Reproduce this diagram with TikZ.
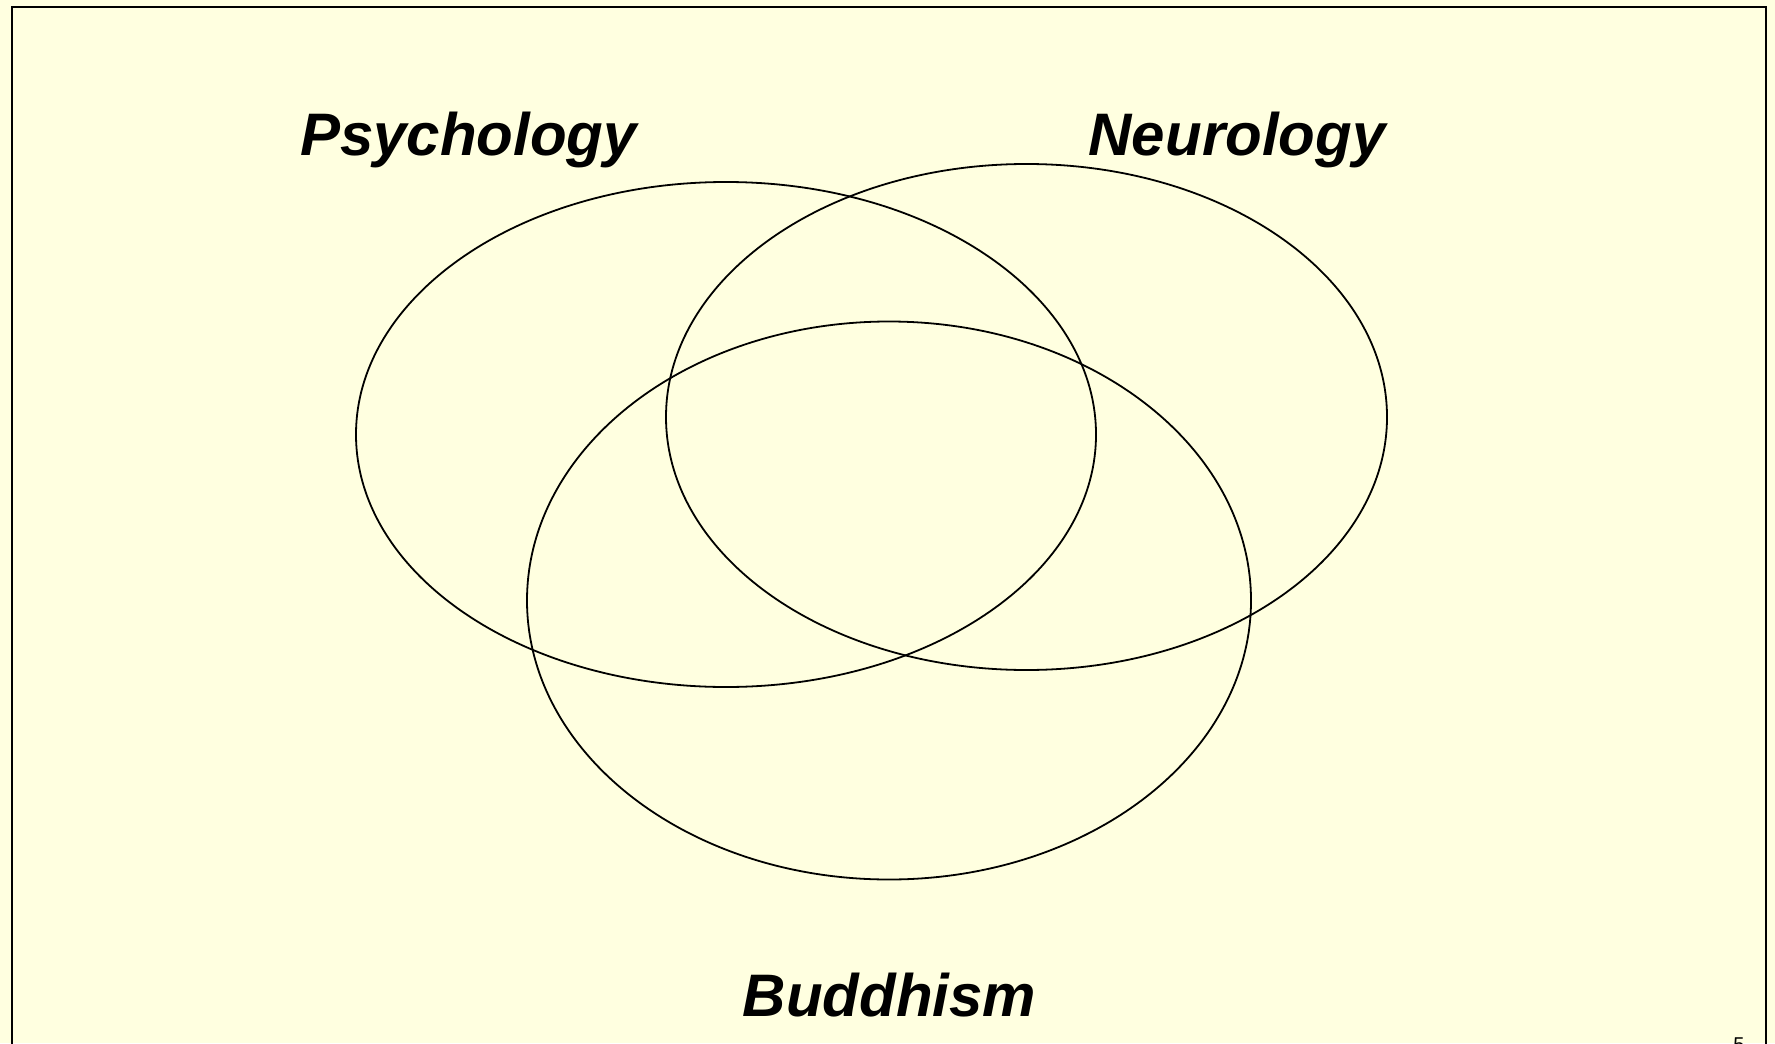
\documentclass[tikz,border=0pt]{standalone}
\usepackage{fontspec}
\setsansfont{Liberation Sans}
\usepackage{xcolor}
\definecolor{slideCream}{HTML}{FFFFE0}
\definecolor{inkBlack}{HTML}{000000}
\usepackage{tikz}
\usetikzlibrary{
    shapes.geometric,
    positioning
}
\tikzset{
    % Slide frame - plain black border
    slide frame/.style={
        draw=inkBlack,
        line width=1pt,
    },
    % Set ellipses - thin outline, no fill
    field set/.style={
        ellipse,
        draw=inkBlack,
        line width=0.9pt,
        inner sep=0pt,
        outer sep=0pt,
    },
    % Set titles - bold italic sans
    field label/.style={
        font=\sffamily\bfseries\itshape\fontsize{30}{36}\selectfont,
        text=inkBlack,
        inner sep=0pt,
        anchor=base,
    },
    % Page number
    page number/.style={
        font=\sffamily\fontsize{10}{12}\selectfont,
        text=inkBlack,
        inner sep=0pt,
        anchor=north,
    },
}

\begin{document}
\begin{tikzpicture}[x=0.5pt, y=-0.5pt]
    \fill[slideCream] (0,0) rectangle (1775,1043);
    \useasboundingbox (0,0) rectangle (1775,1043);
    \draw[slide frame] (12,7) rectangle (1766,1080);

    \node (psychology) [field set, minimum width=370pt, minimum height=252.5pt] at (726,434.5) {};
    \node (neurology) [field set, minimum width=360.5pt, minimum height=253pt] at (1026.5,417) {};
    \node (buddhism) [field set, minimum width=362pt, minimum height=279pt] at (889,600.5) {};

    \node (psychology_label) [field label] at (468.5,156) {Psychology};
    \node (neurology_label) [field label] at (1237,156) {Neurology};
    \node (buddhism_label) [field label] at (889.5,1016) {Buddhism};

    \node (slide_no) [page number] at (1739,1037) {5};
\end{tikzpicture}
\end{document}
